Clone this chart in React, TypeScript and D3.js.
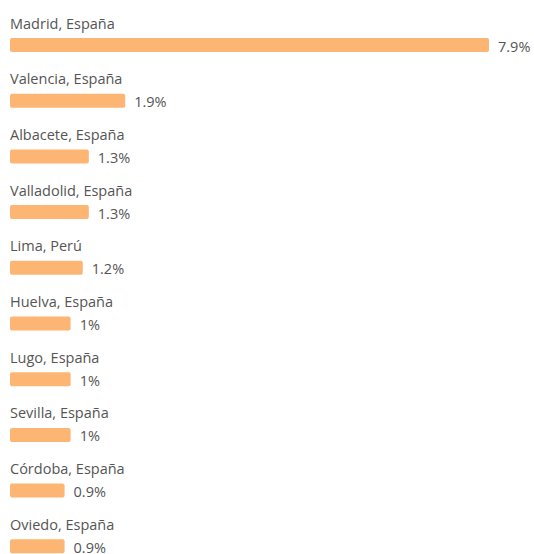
import React from "react";
import * as d3 from "d3";

const categories = [
  "Madrid, España",
  "Valencia, España",
  "Albacete, España",
  "Valladolid, España",
  "Lima, Perú",
  "Huelva, España",
  "Lugo, España",
  "Sevilla, España",
  "Córdoba, España",
  "Oviedo, España",
];
const values = [7.9, 1.9, 1.3, 1.3, 1.2, 1, 1, 1, 0.9, 0.9];
const valueLabels = ["7.9%", "1.9%", "1.3%", "1.3%", "1.2%", "1%", "1%", "1%", "0.9%", "0.9%"];

const W = 534;
const H = 554;
const FONT = "'Segoe UI', 'Open Sans', sans-serif";

export default function App() {
  const x = d3.scaleLinear().domain([0, 7.9]).range([10, 489]);
  const y = d3.scaleBand<string>().domain(categories).range([10, 567]).padding(0);
  return (
    <svg
      width={W}
      height={H}
      style={{ position: "absolute", left: 0, top: 0, background: "#fff" }}
    >
      {categories.map((c, i) => {
        const y0 = y(c)!;
        const barY = y0 + 28;
        return (
          <g key={c}>
            <text x={10} y={y0 + 18.5} fontFamily={FONT} fontSize={14.5} fill="#555555">
              {c}
            </text>
            <rect
              x={x(0)}
              y={barY}
              width={x(values[i]) - x(0)}
              height={14}
              rx={2}
              fill="#FDB574"
            />
            <text
              x={x(values[i]) + 9}
              y={barY + 13.5}
              fontFamily={FONT}
              fontSize={14.5}
              fill="#555555"
            >
              {valueLabels[i]}
            </text>
          </g>
        );
      })}
    </svg>
  );
}
